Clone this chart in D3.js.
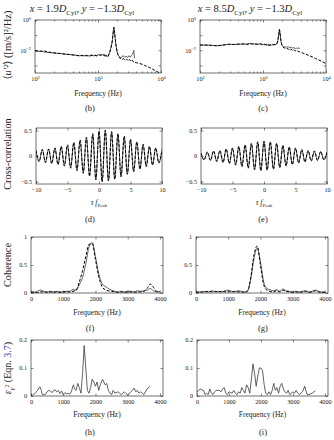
<!DOCTYPE html>
<html><head><meta charset="utf-8">
<script src="https://cdn.jsdelivr.net/npm/d3@7"></script>
<style>
body{margin:0;background:#fff}
svg{display:block}
text{font-family:"Liberation Serif","DejaVu Serif",serif;fill:#222}
</style>
</head><body><svg id="c" width="334" height="440"></svg>
<script>
// ---------- DATA ----------
// (b) spectra at x=1.9D
const specB_solid_f = [100,115,130,150,170,200,230,260,300,350,400,450,500,550,600,650,700,750,800,850,900,950,1000,1050,1100,1150,1200,1250,1300,1350,1400,1450,1500,1550,1600,1650,1700,1740,1780,1820,1870,1930,2000,2100,2200,2350,2500,2650,2800,2950,3100,3250,3400,3550,3650,3700,3750,3800];
const specB_solid_v = [9.0e-3,8.5e-3,8.2e-3,7.5e-3,7.0e-3,6.6e-3,6.2e-3,6.0e-3,5.6e-3,5.3e-3,5.0e-3,4.8e-3,4.3e-3,4.6e-3,4.2e-3,4.7e-3,4.4e-3,4.0e-3,5.2e-3,4.3e-3,4.9e-3,4.1e-3,5.0e-3,5.5e-3,4.6e-3,5.4e-3,4.8e-3,5.6e-3,4.2e-3,5.0e-3,3.8e-3,4.6e-3,6.0e-3,9.0e-3,1.5e-2,2.6e-2,6.0e-2,1.6e-1,3.4e-1,1.7e-1,6.0e-2,2.0e-2,8.0e-3,4.5e-3,3.6e-3,3.2e-3,4.5e-3,3.4e-3,4.2e-3,3.3e-3,4.4e-3,3.5e-3,4.6e-3,5.5e-3,8.0e-3,1.0e-2,5.0e-3,3.0e-3];
const specB_dash_f = [100,120,140,160,190,220,260,300,350,400,460,520,600,680,760,850,950,1050,1150,1250,1350,1450,1550,1620,1680,1730,1770,1800,1840,1890,1950,2050,2150,2250,2400,2550,2700,2850,3000,3150,3300,3450,3600,3800,4100,4500,5000,5500,6000,6600,7200,7900,8600,9300,10000];
const specB_dash_v = [9.5e-3,8.8e-3,9.0e-3,7.8e-3,7.0e-3,6.4e-3,6.1e-3,5.5e-3,5.2e-3,4.9e-3,4.5e-3,4.4e-3,4.5e-3,4.3e-3,4.6e-3,4.4e-3,4.5e-3,4.8e-3,4.9e-3,4.4e-3,4.2e-3,4.0e-3,8.0e-3,1.6e-2,3.5e-2,1.0e-1,2.8e-1,3.2e-1,1.5e-1,5.0e-2,1.6e-2,6.0e-3,3.5e-3,3.0e-3,2.4e-3,2.8e-3,2.1e-3,2.6e-3,2.0e-3,2.5e-3,1.9e-3,2.3e-3,1.8e-3,1.6e-3,1.5e-3,1.35e-3,1.2e-3,1.0e-3,8.5e-4,7.2e-4,6.0e-4,4.8e-4,4.0e-4,3.3e-4,2.9e-4];
// (c) spectra at x=8.5D
const specC_solid_f = [100,120,140,160,180,200,230,260,300,350,400,450,500,560,620,680,750,820,900,980,1060,1150,1250,1350,1450,1550,1650,1720,1780,1830,1880,1940,2000,2100,2200,2350,2500,2650,2800,2950,3100,3250,3400,3550,3700,3800];
const specC_solid_v = [2.3e-2,2.2e-2,2.2e-2,2.1e-2,2.0e-2,2.0e-2,2.2e-2,2.4e-2,2.5e-2,2.4e-2,2.6e-2,2.5e-2,2.7e-2,2.4e-2,2.9e-2,2.5e-2,2.7e-2,2.4e-2,2.8e-2,2.3e-2,2.6e-2,2.1e-2,2.5e-2,2.2e-2,2.4e-2,2.3e-2,2.6e-2,4.5e-2,1.2e-1,2.5e-1,1.0e-1,3.5e-2,2.2e-2,1.8e-2,1.7e-2,1.6e-2,1.7e-2,1.5e-2,1.6e-2,1.4e-2,1.5e-2,1.3e-2,1.4e-2,1.3e-2,1.5e-2,1.2e-2];
const specC_dash_f = [100,125,150,180,210,250,290,340,400,460,530,600,680,760,850,950,1050,1150,1250,1350,1450,1550,1650,1720,1780,1820,1860,1920,1990,2080,2200,2350,2500,2650,2800,2950,3100,3250,3400,3600,3800,4200,4700,5300,6000,6800,7700,8700,10000];
const specC_dash_v = [2.2e-2,2.2e-2,2.1e-2,2.0e-2,2.1e-2,2.3e-2,2.5e-2,2.4e-2,2.5e-2,2.6e-2,2.5e-2,2.6e-2,2.7e-2,2.5e-2,2.6e-2,2.5e-2,2.3e-2,2.5e-2,2.0e-2,2.4e-2,2.3e-2,2.4e-2,2.5e-2,4.0e-2,1.1e-1,2.3e-1,1.4e-1,4.5e-2,2.2e-2,1.6e-2,1.4e-2,1.2e-2,1.3e-2,1.0e-2,1.2e-2,9.5e-3,1.1e-2,9.0e-3,1.0e-2,8.5e-3,8.0e-3,6.8e-3,5.6e-3,4.6e-3,3.7e-3,2.9e-3,2.3e-3,1.8e-3,1.3e-3];

// (d),(e) cross-correlation, extrema every half period
const tau = [-10,-9.5,-9,-8.5,-8,-7.5,-7,-6.5,-6,-5.5,-5,-4.5,-4,-3.5,-3,-2.5,-2,-1.5,-1,-0.5,0,0.5,1,1.5,2,2.5,3,3.5,4,4.5,5,5.5,6,6.5,7,7.5,8,8.5,9,9.5,10];
const xcorrD_solid = [0.10,-0.10,0.12,-0.12,0.13,-0.14,0.15,-0.16,0.18,-0.18,0.20,-0.22,0.25,-0.27,0.30,-0.32,0.35,-0.38,0.42,-0.45,0.48,-0.50,0.50,-0.48,0.47,-0.45,0.43,-0.40,0.38,-0.35,0.32,-0.30,0.27,-0.25,0.22,-0.20,0.18,-0.17,0.15,-0.13,0.12];
const xcorrD_dash  = [0.11,-0.11,0.13,-0.13,0.14,-0.15,0.16,-0.17,0.19,-0.20,0.22,-0.24,0.27,-0.29,0.32,-0.34,0.37,-0.40,0.44,-0.47,0.49,-0.51,0.51,-0.49,0.48,-0.46,0.44,-0.41,0.39,-0.36,0.33,-0.31,0.28,-0.26,0.23,-0.21,0.19,-0.18,0.16,-0.14,0.13];
const xcorrE_solid = [0.05,-0.07,0.07,-0.08,0.09,-0.10,0.10,-0.12,0.13,-0.14,0.15,-0.17,0.18,-0.20,0.21,-0.23,0.24,-0.26,0.27,-0.28,0.28,-0.27,0.27,-0.25,0.24,-0.22,0.20,-0.19,0.17,-0.16,0.15,-0.13,0.12,-0.11,0.10,-0.09,0.09,-0.08,0.08,-0.07,0.07];
const xcorrE_dash  = [0.06,-0.08,0.08,-0.09,0.10,-0.11,0.11,-0.13,0.14,-0.15,0.16,-0.18,0.19,-0.21,0.22,-0.24,0.25,-0.27,0.28,-0.29,0.29,-0.28,0.28,-0.26,0.25,-0.23,0.21,-0.20,0.18,-0.17,0.16,-0.14,0.13,-0.12,0.11,-0.10,0.10,-0.09,0.09,-0.08,0.08];

// (f),(g) coherence
const cohF = [0,100,200,300,400,500,600,700,800,900,1000,1100,1200,1300,1400,1500,1600,1700,1800,1900,2000,2100,2200,2300,2400,2500,2600,2700,2800,2900,3000,3100,3200,3300,3400,3500,3600,3700,3800,3900,4000];
const cohFsolid = [0.02,0.01,0.03,0.055,0.03,0.02,0.03,0.02,0.03,0.02,0.02,0.03,0.03,0.06,0.05,0.15,0.28,0.52,0.82,0.90,0.65,0.35,0.17,0.12,0.08,0.05,0.03,0.02,0.03,0.02,0.03,0.03,0.02,0.04,0.03,0.04,0.05,0.08,0.04,0.02,0.02];
const cohFdash  = [0.01,0.02,0.01,0.02,0.02,0.01,0.02,0.01,0.02,0.01,0.02,0.02,0.02,0.03,0.05,0.20,0.40,0.65,0.87,0.88,0.60,0.30,0.12,0.06,0.04,0.03,0.02,0.01,0.02,0.01,0.02,0.02,0.01,0.02,0.02,0.03,0.08,0.16,0.10,0.03,0.02];
const cohGsolid = [0.03,0.02,0.02,0.03,0.02,0.04,0.02,0.03,0.02,0.04,0.05,0.03,0.02,0.04,0.03,0.02,0.04,0.25,0.62,0.80,0.55,0.20,0.08,0.06,0.04,0.06,0.03,0.07,0.04,0.03,0.02,0.03,0.02,0.03,0.04,0.02,0.03,0.05,0.03,0.02,0.02];
const cohGdash  = [0.02,0.01,0.02,0.02,0.03,0.02,0.03,0.02,0.03,0.02,0.03,0.02,0.03,0.02,0.02,0.01,0.03,0.28,0.68,0.84,0.50,0.15,0.05,0.03,0.02,0.04,0.02,0.05,0.03,0.02,0.01,0.02,0.01,0.02,0.03,0.01,0.02,0.04,0.02,0.01,0.01];

// (h),(i) epsilon
const epsHf = [0,50,100,150,200,250,280,320,350,400,450,500,550,600,650,700,750,800,850,900,950,1000,1050,1100,1150,1200,1250,1300,1320,1350,1400,1450,1500,1550,1600,1650,1700,1750,1800,1850,1900,1950,2000,2050,2100,2150,2220,2300,2350,2400,2450,2500,2550,2600,2700,2800,2900,3000,3100,3150,3200,3250,3300,3350,3400,3500,3600,3700];
const epsH  = [0.005,0.004,0.008,0.012,0.02,0.03,0.033,0.02,0.005,0.004,0.006,0.015,0.02,0.018,0.012,0.02,0.022,0.015,0.02,0.008,0.018,0.005,0.012,0.008,0.01,0.006,0.015,0.035,0.04,0.025,0.02,0.045,0.03,0.01,0.08,0.18,0.10,0.02,0.01,0.03,0.06,0.05,0.035,0.05,0.02,0.04,0.06,0.04,0.045,0.02,0.01,0.005,0.02,0.01,0.015,0.005,0.015,0.003,0.015,0.02,0.028,0.015,0.02,0.01,0.015,0.005,0.025,0.035];
const epsIf = [0,50,100,200,250,300,350,400,450,500,550,600,700,750,800,850,900,950,1000,1100,1150,1200,1250,1300,1350,1400,1450,1500,1550,1600,1650,1700,1750,1800,1850,1900,1950,2000,2050,2100,2150,2200,2250,2300,2350,2400,2450,2500,2550,2600,2650,2700,2750,2800,2850,2900,3000,3050,3100,3150,3200,3300,3370,3400,3450,3500,3600,3700];
const epsI  = [0.015,0.02,0.025,0.02,0.005,0.01,0.005,0.025,0.01,0.005,0.015,0.02,0.02,0.015,0.025,0.03,0.01,0.005,0.015,0.01,0.02,0.01,0.005,0.015,0.01,0.03,0.02,0.01,0.04,0.03,0.01,0.06,0.115,0.08,0.035,0.07,0.10,0.10,0.09,0.04,0.01,0.005,0.015,0.005,0.02,0.045,0.02,0.03,0.01,0.035,0.045,0.025,0.015,0.01,0.02,0.005,0.015,0.01,0.02,0.01,0.005,0.015,0.035,0.02,0.005,0.005,0.01,0.018];

// tick values / labels
const logTicksX = [100,1000,10000];
const logTicksY = [1,0.1,0.01,0.001];
const logLabelY = {1:"0",0.01:"−2"};
const tauTicks = [-10,-5,0,5,10];
const xcTicks = [-0.5,0,0.5];
const freqTicks = [0,1000,2000,3000,4000];
const cohTicks = [0,0.5,1];
const epsTicks = [0,0.1,0.2];

// ---------- DRAW ----------
const svg = d3.select("#c");
const fmtNum = d => (d<0?"−":"") + Math.abs(d);
let clipId = 0;

function panel(o){
  const g = svg.append("g");
  const x = o.x, y = o.y;
  const [l,r] = x.range(), [b,t] = y.range();
  const ts = 2.5;
  const gb = g.append("g").attr("transform",`translate(0,${b})`)
    .call(d3.axisBottom(x).tickValues(o.xt).tickSizeInner(-ts).tickSizeOuter(0).tickPadding(4).tickFormat(o.xf));
  const gt = g.append("g").attr("transform",`translate(0,${t})`)
    .call(d3.axisTop(x).tickValues(o.xt).tickSizeInner(-ts).tickSizeOuter(0).tickFormat(""));
  const gl = g.append("g").attr("transform",`translate(${l},0)`)
    .call(d3.axisLeft(y).tickValues(o.yt).tickSizeInner(-ts).tickSizeOuter(0).tickPadding(4).tickFormat(o.yf));
  const gr = g.append("g").attr("transform",`translate(${r},0)`)
    .call(d3.axisRight(y).tickValues(o.yt).tickSizeInner(-ts).tickSizeOuter(0).tickFormat(""));
  if (o.minorX){
    const mv = [];
    [100,1000].forEach(d=>{for(let k=2;k<10;k++) mv.push(d*k);});
    g.append("g").attr("transform",`translate(0,${b})`).call(d3.axisBottom(x).tickValues(mv).tickSizeInner(-1.5).tickSizeOuter(0).tickFormat(""));
    g.append("g").attr("transform",`translate(0,${t})`).call(d3.axisTop(x).tickValues(mv).tickSizeInner(-1.5).tickSizeOuter(0).tickFormat(""));
  }
  g.selectAll(".domain").remove();
  g.selectAll(".tick line").attr("stroke","#333").attr("stroke-width",0.6);
  g.selectAll(".tick text").attr("font-family",'"Liberation Serif",serif').attr("font-size",6.2).attr("fill","#333");
  if (o.logX){
    gb.selectAll(".tick text").each(function(d){
      const s=d3.select(this); s.text("10");
      s.append("tspan").attr("dy",-2.5).attr("font-size",4.4).text(String(Math.round(Math.log10(d))));
    });
  }
  if (o.logY){
    gl.selectAll(".tick text").each(function(d){
      const s=d3.select(this); const lab = logLabelY[d];
      if(lab===undefined){s.text("");return;}
      s.text("10");
      s.append("tspan").attr("dy",-2.5).attr("font-size",4.4).text(lab);
    });
  }
  const id = "cl"+(clipId++);
  g.append("clipPath").attr("id",id).append("rect").attr("x",l).attr("y",t).attr("width",r-l).attr("height",b-t);
  o.series.forEach(s=>{
    const line = d3.line().x((d,i)=>x(s.xs[i])).y(d=>y(d)).curve(o.curve||d3.curveLinear);
    g.append("path").datum(s.ys).attr("clip-path",`url(#${id})`)
      .attr("fill","none").attr("stroke",s.dash?"#000":"#3a3a3a")
      .attr("stroke-width",s.dash?1.0:0.8)
      .attr("stroke-dasharray",s.dash?"3,1.6":null)
      .attr("d",line);
  });
  g.append("rect").attr("x",l).attr("y",t).attr("width",r-l).attr("height",b-t)
    .attr("fill","none").attr("stroke","#333").attr("stroke-width",0.7);
  const cx=(l+r)/2;
  const xl = g.append("text").attr("x",cx).attr("y",o.xlabY).attr("text-anchor","middle").attr("font-size",7.5).attr("fill","#333");
  if(o.tauLabel){
    xl.append("tspan").attr("font-style","italic").text("τ f");
    xl.append("tspan").attr("dy",1.8).attr("font-size",5).text("Peak");
  } else xl.text("Frequency (Hz)");
  svg.append("text").attr("x",o.subX).attr("y",o.subY).attr("text-anchor","middle").attr("font-size",8.5).attr("fill","#222").text(o.sub);
}

// titles
function title(cx, xv){
  const t = svg.append("text").attr("x",cx).attr("y",12).attr("text-anchor","middle").attr("font-size",10.5);
  t.append("tspan").attr("font-style","italic").text("x");
  t.append("tspan").text(" = "+xv);
  t.append("tspan").attr("font-style","italic").text("D");
  t.append("tspan").attr("dy",2.5).attr("font-size",7).text("Cyl");
  t.append("tspan").attr("dy",-2.5).text(", ");
  t.append("tspan").attr("font-style","italic").text("y");
  t.append("tspan").text(" = −1.3");
  t.append("tspan").attr("font-style","italic").text("D");
  t.append("tspan").attr("dy",2.5).attr("font-size",7).text("Cyl");
}
title(82,"1.9");
title(250,"8.5");

// y labels
function ylab(cy, fs){
  return svg.append("text").attr("transform",`translate(11,${cy}) rotate(-90)`).attr("text-anchor","middle").attr("font-size",fs||10);
}
{
  const t = ylab(45, 10.5);
  t.append("tspan").text("⟨");
  t.append("tspan").attr("font-style","italic").text("u′²");
  t.append("tspan").text("⟩ ([m/s]²/Hz)");
}
ylab(154, 10.3).text("Cross-correlation");
ylab(265, 10.3).text("Coherence");
{
  const t = ylab(368, 10);
  t.append("tspan").attr("font-style","italic").text("ε");
  t.append("tspan").attr("font-style","italic").attr("dy",2.5).attr("font-size",7).text("γ");
  t.append("tspan").attr("dy",-4.5).attr("font-size",5.5).text("2");
  t.append("tspan").attr("dy",2).text(" (Eqn. ");
  t.append("tspan").attr("fill","#3333cc").text("3.7");
  t.append("tspan").text(")");
}

const logX = (l,r)=>d3.scaleLog().domain([100,10000]).range([l,r]);
const logY = ()=>d3.scaleLog().domain([Math.pow(10,-3.5),1]).range([73,20]);
panel({x:logX(35,161), y:logY(), xt:logTicksX, yt:logTicksY, logX:true, logY:true, minorX:true,
  series:[{xs:specB_solid_f, ys:specB_solid_v},{xs:specB_dash_f, ys:specB_dash_v, dash:true}],
  xlabY:96, sub:"(b)", subX:90, subY:111});
panel({x:logX(200,326), y:logY(), xt:logTicksX, yt:logTicksY, logX:true, logY:true, minorX:true,
  series:[{xs:specC_solid_f, ys:specC_solid_v},{xs:specC_dash_f, ys:specC_dash_v, dash:true}],
  xlabY:96, sub:"(c)", subX:263, subY:111});

const xcY = ()=>d3.scaleLinear().domain([-0.55,0.55]).range([184,128]);
panel({x:d3.scaleLinear().domain([-10,10]).range([36,162]), y:xcY(), xt:tauTicks, xf:fmtNum, yt:xcTicks, yf:fmtNum,
  curve:d3.curveMonotoneX, tauLabel:true,
  series:[{xs:tau, ys:xcorrD_solid},{xs:tau, ys:xcorrD_dash, dash:true}],
  xlabY:205, sub:"(d)", subX:90, subY:222});
panel({x:d3.scaleLinear().domain([-10,10]).range([201,327]), y:xcY(), xt:tauTicks, xf:fmtNum, yt:xcTicks, yf:fmtNum,
  curve:d3.curveMonotoneX, tauLabel:true,
  series:[{xs:tau, ys:xcorrE_solid},{xs:tau, ys:xcorrE_dash, dash:true}],
  xlabY:205, sub:"(e)", subX:263, subY:222});

const cohY = ()=>d3.scaleLinear().domain([0,1]).range([293,237]);
panel({x:d3.scaleLinear().domain([0,4096]).range([31,163]), y:cohY(), xt:freqTicks, xf:d=>d, yt:cohTicks, yf:d=>d,
  curve:d3.curveMonotoneX,
  series:[{xs:cohF, ys:cohFsolid},{xs:cohF, ys:cohFdash, dash:true}],
  xlabY:315, sub:"(f)", subX:90, subY:331});
panel({x:d3.scaleLinear().domain([0,4096]).range([196,328]), y:cohY(), xt:freqTicks, xf:d=>d, yt:cohTicks, yf:d=>d,
  curve:d3.curveMonotoneX,
  series:[{xs:cohF, ys:cohGsolid},{xs:cohF, ys:cohGdash, dash:true}],
  xlabY:315, sub:"(g)", subX:263, subY:331});

const epsY = ()=>d3.scaleLinear().domain([0,0.2]).range([396,340]);
panel({x:d3.scaleLinear().domain([0,4096]).range([31,163]), y:epsY(), xt:freqTicks, xf:d=>d, yt:epsTicks, yf:d=>d,
  series:[{xs:epsHf, ys:epsH}],
  xlabY:417, sub:"(h)", subX:90, subY:435});
panel({x:d3.scaleLinear().domain([0,4096]).range([197,328]), y:epsY(), xt:freqTicks, xf:d=>d, yt:epsTicks, yf:d=>d,
  series:[{xs:epsIf, ys:epsI}],
  xlabY:417, sub:"(i)", subX:263, subY:435});
</script>
</body></html>
